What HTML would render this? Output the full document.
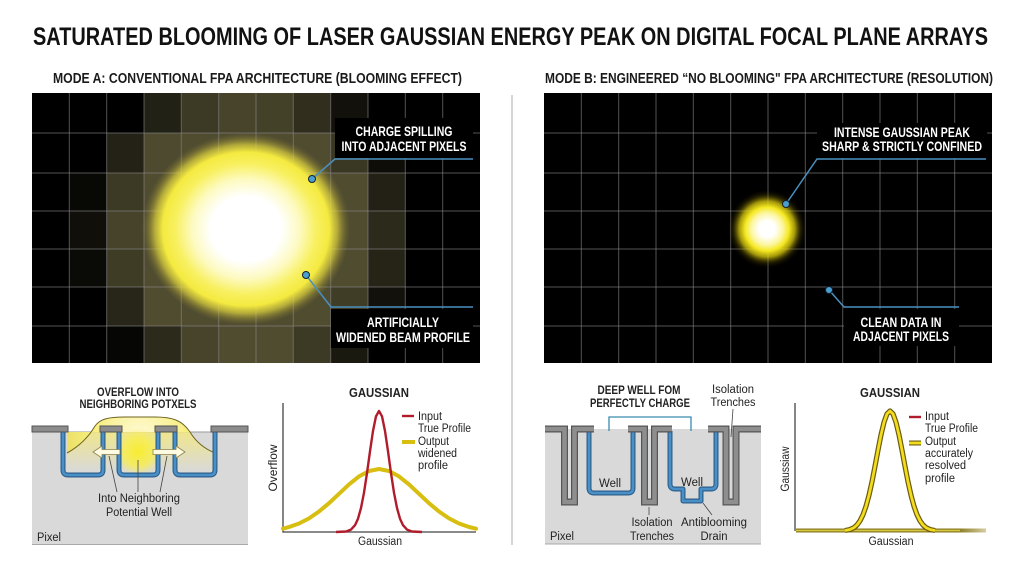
<!DOCTYPE html>
<html><head><meta charset="utf-8"><style>
html,body{margin:0;padding:0;background:#fff;}
svg{display:block;}
text{font-family:"Liberation Sans",Arial,sans-serif;}
</style></head><body>
<svg width="1024" height="572" viewBox="0 0 1024 572" xmlns="http://www.w3.org/2000/svg">
<defs>
<radialGradient id="gA" cx="0.5" cy="0.5" r="0.5">
<stop offset="0" stop-color="#ffffff"/>
<stop offset="0.34" stop-color="#ffffff"/>
<stop offset="0.52" stop-color="#fdfac0"/>
<stop offset="0.68" stop-color="#f8f060"/>
<stop offset="0.8" stop-color="#f4ea40"/>
<stop offset="0.88" stop-color="#e8dc40" stop-opacity="0.65"/>
<stop offset="0.95" stop-color="#b8ac38" stop-opacity="0.25"/>
<stop offset="1" stop-color="#a09030" stop-opacity="0"/>
</radialGradient>
<radialGradient id="gB" cx="767" cy="229" r="40" gradientUnits="userSpaceOnUse">
<stop offset="0" stop-color="#ffffff"/>
<stop offset="0.2" stop-color="#ffffff"/>
<stop offset="0.4" stop-color="#fcf6a0"/>
<stop offset="0.55" stop-color="#f5e820"/>
<stop offset="0.7" stop-color="#e8d810" stop-opacity="0.7"/>
<stop offset="0.85" stop-color="#806f00" stop-opacity="0.25"/>
<stop offset="1" stop-color="#000000" stop-opacity="0"/>
</radialGradient>
<radialGradient id="dome" cx="140" cy="440" r="80" gradientUnits="userSpaceOnUse">
<stop offset="0" stop-color="#fffbe0"/>
<stop offset="0.6" stop-color="#f7ee80"/>
<stop offset="1" stop-color="#e8dc60"/>
</radialGradient>
<linearGradient id="domeLow" x1="0" y1="432" x2="0" y2="472" gradientUnits="userSpaceOnUse">
<stop offset="0" stop-color="#f3e880" stop-opacity="0.85"/>
<stop offset="1" stop-color="#f3e880" stop-opacity="0"/>
</linearGradient>
<radialGradient id="core" cx="138" cy="452" r="24" gradientUnits="userSpaceOnUse">
<stop offset="0" stop-color="#f8ec30"/>
<stop offset="0.6" stop-color="#f8ee50" stop-opacity="0.8"/>
<stop offset="1" stop-color="#f8ee60" stop-opacity="0"/>
</radialGradient>
<linearGradient id="tailFade" x1="795" y1="0" x2="987" y2="0" gradientUnits="userSpaceOnUse">
<stop offset="0" stop-color="#8a7a20"/>
<stop offset="0.85" stop-color="#8a7a20"/>
<stop offset="1" stop-color="#d8d0a8"/>
</linearGradient>
</defs>

<!-- Title -->
<text x="33" y="45" font-size="25" font-weight="bold" fill="#111" textLength="955" lengthAdjust="spacingAndGlyphs">SATURATED BLOOMING OF LASER GAUSSIAN ENERGY PEAK ON DIGITAL FOCAL PLANE ARRAYS</text>
<text x="53" y="83" font-size="14.5" font-weight="bold" fill="#1a1a1a" textLength="409" lengthAdjust="spacingAndGlyphs">MODE A: CONVENTIONAL FPA ARCHITECTURE (BLOOMING EFFECT)</text>
<text x="545" y="83" font-size="14.5" font-weight="bold" fill="#1a1a1a" textLength="448" lengthAdjust="spacingAndGlyphs">MODE B: ENGINEERED “NO BLOOMING" FPA ARCHITECTURE (RESOLUTION)</text>

<!-- divider -->
<line x1="512" y1="95" x2="512" y2="545" stroke="#c8c8c8" stroke-width="1.5"/>

<!-- LEFT PANEL -->
<rect x="32" y="93" width="448" height="270" fill="#000"/>
<g>
<rect x="144" y="93" width="37.33" height="40" fill="#222115"/>
<rect x="181.33" y="93" width="37.33" height="40" fill="#3c3924"/>
<rect x="218.67" y="93" width="37.33" height="40" fill="#48442b"/>
<rect x="256" y="93" width="37.33" height="40" fill="#444129"/>
<rect x="293.33" y="93" width="37.33" height="40" fill="#312e1d"/>
<rect x="330.67" y="93" width="37.33" height="40" fill="#12110b"/>
<rect x="106.67" y="133" width="37.33" height="40" fill="#242216"/>
<rect x="144" y="133" width="37.33" height="40" fill="#4e4a2f"/>
<rect x="181.33" y="133" width="149.34" height="40" fill="#504c30"/>
<rect x="330.67" y="133" width="37.33" height="40" fill="#3a3723"/>
<rect x="368" y="133" width="37.33" height="40" fill="#0e0d08"/>
<rect x="69.33" y="173" width="37.33" height="38" fill="#080805"/>
<rect x="106.67" y="173" width="37.33" height="38" fill="#3c3924"/>
<rect x="144" y="173" width="224" height="38" fill="#504c30"/>
<rect x="368" y="173" width="37.33" height="38" fill="#232115"/>
<rect x="69.33" y="211" width="37.33" height="38" fill="#100f0a"/>
<rect x="106.67" y="211" width="37.33" height="38" fill="#46432a"/>
<rect x="144" y="211" width="224" height="38" fill="#504c30"/>
<rect x="368" y="211" width="37.33" height="38" fill="#2c2a1a"/>
<rect x="69.33" y="249" width="37.33" height="38" fill="#0a0a06"/>
<rect x="106.67" y="249" width="37.33" height="38" fill="#3f3c26"/>
<rect x="144" y="249" width="224" height="38" fill="#504c30"/>
<rect x="368" y="249" width="37.33" height="38" fill="#262417"/>
<rect x="106.67" y="287" width="37.33" height="39" fill="#282618"/>
<rect x="144" y="287" width="186.67" height="39" fill="#504c30"/>
<rect x="330.67" y="287" width="37.33" height="39" fill="#403d26"/>
<rect x="368" y="287" width="37.33" height="39" fill="#12110b"/>
<rect x="106.67" y="326" width="37.33" height="37" fill="#060604"/>
<rect x="144" y="326" width="37.33" height="37" fill="#2c2a1a"/>
<rect x="181.33" y="326" width="37.33" height="37" fill="#47442b"/>
<rect x="218.67" y="326" width="74.66" height="37" fill="#504c30"/>
<rect x="293.33" y="326" width="37.33" height="37" fill="#3c3924"/>
<rect x="330.67" y="326" width="37.33" height="37" fill="#1a1910"/>
</g>
<g stroke="#8a8a8a" stroke-opacity="0.6" stroke-width="1">
<path d="M69.3 93V363M106.7 93V363M144 93V363M181.3 93V363M218.7 93V363M256 93V363M293.3 93V363M330.7 93V363M368 93V363M405.3 93V363M442.7 93V363"/>
<path d="M32 133H480M32 173H480M32 211H480M32 249H480M32 287H480M32 326H480"/>
</g>
<ellipse cx="246" cy="229" rx="104" ry="96" fill="url(#gA)"/>

<!-- left labels -->
<rect x="335" y="118" width="138" height="40" fill="#000"/>
<text x="404" y="136" font-size="13.5" font-weight="bold" fill="#fff" text-anchor="middle" textLength="97" lengthAdjust="spacingAndGlyphs">CHARGE SPILLING</text>
<text x="404" y="151" font-size="13.5" font-weight="bold" fill="#fff" text-anchor="middle" textLength="125" lengthAdjust="spacingAndGlyphs">INTO ADJACENT PIXELS</text>
<rect x="331" y="309" width="142" height="39" fill="#000"/>
<text x="403" y="327" font-size="13.5" font-weight="bold" fill="#fff" text-anchor="middle" textLength="72" lengthAdjust="spacingAndGlyphs">ARTIFICIALLY</text>
<text x="403" y="342" font-size="13.5" font-weight="bold" fill="#fff" text-anchor="middle" textLength="134" lengthAdjust="spacingAndGlyphs">WIDENED BEAM PROFILE</text>
<g fill="none" stroke="#4a90c0" stroke-width="1.5">
<path d="M312 179L335 159H473"/>
<path d="M306 275L331 307H473"/>
</g>
<circle cx="312" cy="179" r="3.5" fill="#4a9fd0" stroke="#123" stroke-width="1"/>
<circle cx="306" cy="275" r="3.5" fill="#4a9fd0" stroke="#123" stroke-width="1"/>

<!-- RIGHT PANEL -->
<rect x="544" y="93" width="448" height="270" fill="#000"/>
<g stroke="#8a8a8a" stroke-opacity="0.6" stroke-width="1">
<path d="M581.3 93V363M618.7 93V363M656 93V363M693.3 93V363M730.7 93V363M768 93V363M805.3 93V363M842.7 93V363M880 93V363M917.3 93V363M954.7 93V363"/>
<path d="M544 133H992M544 173H992M544 211H992M544 249H992M544 287H992M544 326H992"/>
</g>
<circle cx="767" cy="229" r="40" fill="url(#gB)"/>
<rect x="817" y="123" width="170" height="35" fill="#000"/>
<text x="902" y="137" font-size="13.5" font-weight="bold" fill="#fff" text-anchor="middle" textLength="136" lengthAdjust="spacingAndGlyphs">INTENSE GAUSSIAN PEAK</text>
<text x="902" y="151" font-size="13.5" font-weight="bold" fill="#fff" text-anchor="middle" textLength="160" lengthAdjust="spacingAndGlyphs">SHARP &amp; STRICTLY CONFINED</text>
<rect x="844" y="309" width="115" height="37" fill="#000"/>
<text x="901" y="327" font-size="13.5" font-weight="bold" fill="#fff" text-anchor="middle" textLength="81" lengthAdjust="spacingAndGlyphs">CLEAN DATA IN</text>
<text x="901" y="341" font-size="13.5" font-weight="bold" fill="#fff" text-anchor="middle" textLength="96" lengthAdjust="spacingAndGlyphs">ADJACENT PIXELS</text>
<g fill="none" stroke="#4a90c0" stroke-width="1.5">
<path d="M786 204L817 159H986"/>
<path d="M829 290L844 307H959"/>
</g>
<circle cx="786" cy="204" r="3.5" fill="#4a9fd0" stroke="#123" stroke-width="1"/>
<circle cx="829" cy="290" r="3.5" fill="#4a9fd0" stroke="#123" stroke-width="1"/>

<!-- BOTTOM LEFT DIAGRAM -->
<text x="138" y="396" font-size="12" font-weight="bold" fill="#222" text-anchor="middle" textLength="82" lengthAdjust="spacingAndGlyphs">OVERFLOW INTO</text>
<text x="138" y="408" font-size="12" font-weight="bold" fill="#222" text-anchor="middle" textLength="117" lengthAdjust="spacingAndGlyphs">NEIGHBORING POTXELS</text>
<rect x="32" y="432" width="216" height="113" fill="#d9d9d9"/>
<line x1="32" y1="544.5" x2="248" y2="544.5" stroke="#a8a8a8" stroke-width="1"/>
<line x1="32" y1="432" x2="248" y2="432" stroke="#9a9a9a" stroke-width="1"/>
<path d="M67 453C78 447 88 438 95 426C100 419 108 417 125 417L155 417C172 417 182 420 190 432L67 432Z" fill="url(#dome)"/>
<path d="M67 453C78 447 86 440 90 432L190 432C196 442 205 449 215 453L215 472L67 472Z" fill="url(#domeLow)"/>
<path d="M67 453C78 447 88 438 95 426C100 419 108 417 125 417L155 417C172 417 182 420 190 432C196 442 205 449 215 453" fill="none" stroke="#6d6420" stroke-width="1"/>
<ellipse cx="138" cy="452" rx="22" ry="26" fill="url(#core)"/>
<g fill="none" stroke-linejoin="round">
<path d="M63 432V470Q63 475 68 475H98Q103 475 103 470V432" stroke="#2d5f8a" stroke-width="5"/>
<path d="M63 432V470Q63 475 68 475H98Q103 475 103 470V432" stroke="#4a90c8" stroke-width="2.6"/>
<path d="M119 432V470Q119 475 124 475H153Q158 475 158 470V432" stroke="#2d5f8a" stroke-width="5"/>
<path d="M119 432V470Q119 475 124 475H153Q158 475 158 470V432" stroke="#4a90c8" stroke-width="2.6"/>
<path d="M175 432V470Q175 475 180 475H210Q215 475 215 470V432" stroke="#2d5f8a" stroke-width="5"/>
<path d="M175 432V470Q175 475 180 475H210Q215 475 215 470V432" stroke="#4a90c8" stroke-width="2.6"/>
</g>
<g fill="#8c8c8c" stroke="#555" stroke-width="1">
<rect x="32" y="426" width="36" height="6"/>
<rect x="100" y="426" width="22" height="6"/>
<rect x="155" y="426" width="22" height="6"/>
<rect x="211" y="426" width="37" height="6"/>
</g>
<g fill="#fffbe0" stroke="#8a8050" stroke-width="0.8">
<path d="M93 452L102 446V449.5H120V454.5H102V458Z"/>
<path d="M185 452L176 446V449.5H153V454.5H176V458Z"/>
</g>
<g stroke="#444" stroke-width="0.8">
<line x1="109" y1="456" x2="117" y2="492"/>
<line x1="138" y1="460" x2="138" y2="492"/>
<line x1="167" y1="456" x2="160" y2="492"/>
</g>
<text x="139" y="502" font-size="11.5" fill="#222" text-anchor="middle" textLength="82" lengthAdjust="spacingAndGlyphs">Into Neighboring</text>
<text x="139" y="516" font-size="11.5" fill="#222" text-anchor="middle" textLength="66" lengthAdjust="spacingAndGlyphs">Potential Well</text>
<text x="37" y="541" font-size="11.5" fill="#222" textLength="24" lengthAdjust="spacingAndGlyphs">Pixel</text>

<!-- BOTTOM LEFT CHART -->
<text x="379" y="397" font-size="12.5" font-weight="bold" fill="#222" text-anchor="middle" textLength="60" lengthAdjust="spacingAndGlyphs">GAUSSIAN</text>
<path d="M283 403V532H476" fill="none" stroke="#444" stroke-width="1.3"/>
<polyline fill="none" stroke="#d8be10" stroke-width="4" stroke-linejoin="round" stroke-linecap="round" points="283,528.7 289,527 299,523.5 309,518.4 319,511.5 329,503.2 339,493.8 349,484.4 359,476.4 369,471 379,469 389,471 399,476.4 409,484.4 419,493.8 429,503.2 439,511.5 449,518.4 459,523.5 469,527 476,528.7"/>
<polyline fill="none" stroke="#b01c2c" stroke-width="2.4" stroke-linejoin="round" points="336,532 346,531.5 351,529.6 355,525.2 358,518.7 361,508 364,492.7 367,473.1 370,451.3 373,431 376,416.3 379,411 382,416.3 385,431 388,451.3 391,473.1 394,492.7 397,508 400,518.7 403,525.2 407,529.6 412,531.5 422,532"/>
<text transform="translate(277,468) rotate(-90)" font-size="11.5" fill="#222" text-anchor="middle" textLength="47" lengthAdjust="spacingAndGlyphs">Overflow</text>
<text x="380" y="545" font-size="11.5" fill="#222" text-anchor="middle" textLength="44" lengthAdjust="spacingAndGlyphs">Gaussian</text>
<line x1="402" y1="416" x2="414" y2="416" stroke="#b01c2c" stroke-width="2.4"/>
<text x="418" y="420" font-size="11.5" fill="#222" textLength="24" lengthAdjust="spacingAndGlyphs">Input</text>
<text x="418" y="432" font-size="11.5" fill="#222" textLength="53" lengthAdjust="spacingAndGlyphs">True Profile</text>
<line x1="402" y1="442" x2="415" y2="442" stroke="#d8be10" stroke-width="4"/>
<text x="418" y="445" font-size="11.5" fill="#222" textLength="31" lengthAdjust="spacingAndGlyphs">Output</text>
<text x="418" y="457" font-size="11.5" fill="#222" textLength="39" lengthAdjust="spacingAndGlyphs">widened</text>
<text x="418" y="469" font-size="11.5" fill="#222" textLength="30" lengthAdjust="spacingAndGlyphs">profile</text>

<!-- BOTTOM RIGHT DIAGRAM -->
<text x="639" y="394" font-size="11.5" font-weight="bold" fill="#222" text-anchor="middle" textLength="83" lengthAdjust="spacingAndGlyphs">DEEP WELL FOM</text>
<text x="640" y="407" font-size="11.5" font-weight="bold" fill="#222" text-anchor="middle" textLength="100" lengthAdjust="spacingAndGlyphs">PERFECTLY CHARGE</text>
<text x="733" y="393" font-size="11.5" fill="#222" text-anchor="middle" textLength="42" lengthAdjust="spacingAndGlyphs">Isolation</text>
<text x="733" y="406" font-size="11.5" fill="#222" text-anchor="middle" textLength="45" lengthAdjust="spacingAndGlyphs">Trenches</text>
<rect x="545" y="429" width="216" height="115" fill="#d9d9d9"/>
<line x1="545" y1="544" x2="761" y2="544" stroke="#a8a8a8" stroke-width="1"/>
<path d="M609 431V417H691V431" fill="none" stroke="#3a8ab0" stroke-width="1.3"/>
<g fill="none" stroke-linejoin="round">
<path d="M589 431V488Q589 493 594 493H628Q633 493 633 488V431" stroke="#2d5f8a" stroke-width="5"/>
<path d="M589 431V488Q589 493 594 493H628Q633 493 633 488V431" stroke="#4a90c8" stroke-width="2.6"/>
<path d="M670 431V484Q670 489 675 489H683V501H701V489H711Q716 489 716 484V431" stroke="#2d5f8a" stroke-width="5"/>
<path d="M670 431V484Q670 489 675 489H683V501H701V489H711Q716 489 716 484V431" stroke="#4a90c8" stroke-width="2.6"/>
</g>
<g fill="none" stroke-linejoin="miter">
<path d="M545 429H564.5V502H574.5V429H594M628 429H644.5V502H654.5V429H672M708 429H726V502H736V429H761" stroke="#555" stroke-width="7"/>
<path d="M545 429H564.5V502H574.5V429H594M628 429H644.5V502H654.5V429H672M708 429H726V502H736V429H761" stroke="#8e8e8e" stroke-width="4.6"/>
</g>
<text x="610" y="487" font-size="11.5" fill="#222" text-anchor="middle" textLength="22" lengthAdjust="spacingAndGlyphs">Well</text>
<text x="692" y="486" font-size="11.5" fill="#222" text-anchor="middle" textLength="22" lengthAdjust="spacingAndGlyphs">Well</text>
<g stroke="#444" stroke-width="0.8">
<line x1="733" y1="409" x2="731" y2="437"/>
<line x1="649" y1="507" x2="649" y2="515"/>
<line x1="703" y1="503" x2="712" y2="515"/>
</g>
<text x="652" y="526" font-size="11.5" fill="#222" text-anchor="middle" textLength="41" lengthAdjust="spacingAndGlyphs">Isolation</text>
<text x="652" y="540" font-size="11.5" fill="#222" text-anchor="middle" textLength="44" lengthAdjust="spacingAndGlyphs">Trenches</text>
<text x="714" y="526" font-size="11.5" fill="#222" text-anchor="middle" textLength="66" lengthAdjust="spacingAndGlyphs">Antiblooming</text>
<text x="714" y="540" font-size="11.5" fill="#222" text-anchor="middle" textLength="27" lengthAdjust="spacingAndGlyphs">Drain</text>
<text x="550" y="540" font-size="11.5" fill="#222" textLength="24" lengthAdjust="spacingAndGlyphs">Pixel</text>

<!-- BOTTOM RIGHT CHART -->
<text x="890" y="397" font-size="12.5" font-weight="bold" fill="#222" text-anchor="middle" textLength="60" lengthAdjust="spacingAndGlyphs">GAUSSIAN</text>
<path d="M795 403V531" fill="none" stroke="#444" stroke-width="1.3"/>
<polyline fill="none" stroke="url(#tailFade)" stroke-width="4" points="796,530.5 986,530.5"/>
<polyline fill="none" stroke="#d8c840" stroke-width="1.6" points="796,530.5 960,530.5"/>
<polyline fill="none" stroke="#6b5a10" stroke-width="5.2" stroke-linejoin="round" points="845,530.5 850,529.5 854,527.6 857,525 860,520.8 863,514.8 866,506.3 869,495.2 872,481.7 875,466.3 878,450.2 881,434.9 884,422.3 887,413.9 890,411 893,413.9 896,422.3 899,434.9 902,450.2 905,466.3 908,481.7 911,495.2 914,506.3 917,514.8 920,520.8 923,525 926,527.6 930,529.5 935,530.5"/>
<polyline fill="none" stroke="#f2dc1c" stroke-width="2.8" stroke-linejoin="round" points="845,530.5 850,529.5 854,527.6 857,525 860,520.8 863,514.8 866,506.3 869,495.2 872,481.7 875,466.3 878,450.2 881,434.9 884,422.3 887,413.9 890,411 893,413.9 896,422.3 899,434.9 902,450.2 905,466.3 908,481.7 911,495.2 914,506.3 917,514.8 920,520.8 923,525 926,527.6 930,529.5 935,530.5"/>
<text transform="translate(789,469) rotate(-90)" font-size="11.5" fill="#222" text-anchor="middle" textLength="45" lengthAdjust="spacingAndGlyphs">Gaussiaw</text>
<text x="891" y="545" font-size="11.5" fill="#222" text-anchor="middle" textLength="45" lengthAdjust="spacingAndGlyphs">Gaussian</text>
<line x1="909" y1="417" x2="921" y2="417" stroke="#b01c2c" stroke-width="2.4"/>
<text x="925" y="420" font-size="11.5" fill="#222" textLength="24" lengthAdjust="spacingAndGlyphs">Input</text>
<text x="925" y="432" font-size="11.5" fill="#222" textLength="53" lengthAdjust="spacingAndGlyphs">True Profile</text>
<line x1="909" y1="443" x2="921" y2="443" stroke="#6b5a10" stroke-width="5"/>
<line x1="909" y1="443" x2="921" y2="443" stroke="#f2dc1c" stroke-width="2.8"/>
<text x="925" y="445" font-size="11.5" fill="#222" textLength="31" lengthAdjust="spacingAndGlyphs">Output</text>
<text x="925" y="457" font-size="11.5" fill="#222" textLength="48" lengthAdjust="spacingAndGlyphs">accurately</text>
<text x="925" y="469" font-size="11.5" fill="#222" textLength="41" lengthAdjust="spacingAndGlyphs">resolved</text>
<text x="925" y="482" font-size="11.5" fill="#222" textLength="30" lengthAdjust="spacingAndGlyphs">profile</text>
</svg>
</body></html>
